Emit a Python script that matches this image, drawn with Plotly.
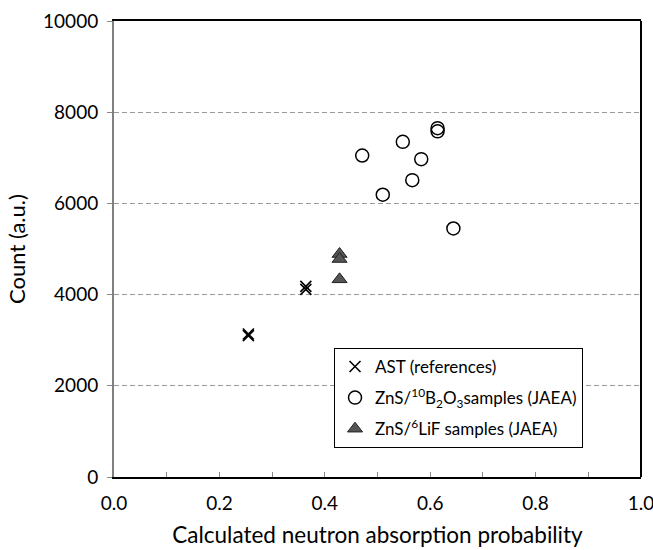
import plotly.graph_objects as go

# ---- data ----
ast_x = [0.255, 0.255, 0.364, 0.364]
ast_y = [3100, 3135, 4115, 4180]

b2o3_x = [0.471, 0.510, 0.548, 0.566, 0.583, 0.614, 0.614, 0.644]
b2o3_y = [7050, 6190, 7350, 6510, 6970, 7650, 7580, 5450]

lif_x = [0.428, 0.428, 0.428]
lif_y = [4890, 4780, 4335]

x_ticks = [0.0, 0.2, 0.4, 0.6, 0.8, 1.0]
x_ticklabels = ["0.0", "0.2", "0.4", "0.6", "0.8", "1.0"]
y_ticks = [0, 2000, 4000, 6000, 8000, 10000]
y_ticklabels = ["0", "2000", "4000", "6000", "8000", "10000"]

names = [
    "AST (references)",
    "ZnS/<sup>10</sup>B<sub>2</sub>O<sub>3</sub>samples (JAEA)",
    "ZnS/<sup>6</sup>LiF samples (JAEA)",
]

FONT = "Lato, 'Open Sans', sans-serif"

fig = go.Figure()
fig.add_trace(go.Scatter(
    x=ast_x, y=ast_y, mode="markers", name=names[0], legendgroup="a",
    marker=dict(symbol="x-thin", size=11, color="black",
                line=dict(color="black", width=1.6)),
))
fig.add_trace(go.Scatter(
    x=b2o3_x, y=b2o3_y, mode="markers", name=names[1], legendgroup="b",
    marker=dict(symbol="circle-open", size=13, color="black",
                line=dict(color="black", width=1.5)),
))
fig.add_trace(go.Scatter(
    x=lif_x, y=lif_y, mode="markers", name=names[2], legendgroup="c",
    marker=dict(symbol="triangle-up", size=13, color="#555555",
                line=dict(color="#222222", width=1)),
))

fig.update_layout(
    width=653, height=550,
    margin=dict(l=114, r=12, t=21, b=73, autoexpand=False),
    paper_bgcolor="white", plot_bgcolor="white",
    font=dict(family=FONT, color="black", size=19),
    showlegend=True,
    legend=dict(
        x=0.4175, y=0.283, xanchor="left", yanchor="top",
        bgcolor="white", bordercolor="black", borderwidth=1,
        font=dict(family=FONT, size=17, color="black"),
        tracegroupgap=6,
    ),
    xaxis=dict(
        range=[0, 1], tickvals=x_ticks, ticktext=x_ticklabels,
        showgrid=False, zeroline=False, automargin=False,
        showline=True, mirror=True, linecolor="black", linewidth=2,
        ticks="inside", ticklen=5, tickcolor="#888888", tickwidth=1,
        minor=dict(dtick=0.1, ticks="inside", ticklen=5, tickcolor="#888888", tickwidth=1),
        tickfont=dict(size=19), ticklabeloverflow="allow", ticklabelstandoff=8,
        title=dict(text="Calculated neutron absorption probability",
                   font=dict(size=22.5), standoff=14),
    ),
    yaxis=dict(
        range=[0, 10000], tickvals=y_ticks, ticktext=y_ticklabels,
        showgrid=True, gridcolor="#999999", gridwidth=1, griddash="5px,3px",
        zeroline=False, automargin=False,
        showline=True, mirror=False, linecolor="#808080", linewidth=2,
        ticks="outside", ticklen=5, tickcolor="#888888", tickwidth=1,
        tickfont=dict(size=19), ticklabeloverflow="allow", ticklabelstandoff=5,
        title=dict(text="Count (a.u.)", font=dict(size=22), standoff=11),
    ),
)

# black right border of the plot frame
fig.add_shape(type="line", xref="paper", yref="paper", x0=1, x1=1, y0=0, y1=1,
              line=dict(color="black", width=2))

fig.write_html("out.html")
